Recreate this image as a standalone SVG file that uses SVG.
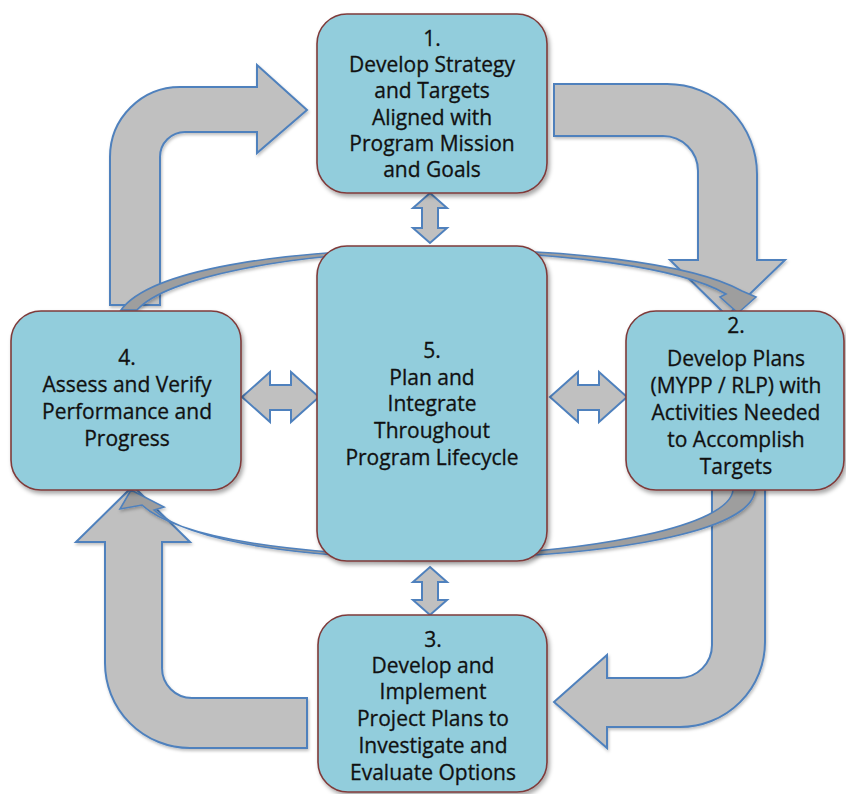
<svg xmlns="http://www.w3.org/2000/svg" width="846" height="794" viewBox="0 0 846 794">
<defs>
<filter id="sh" x="-10%" y="-10%" width="125%" height="125%">
<feDropShadow dx="2" dy="3" stdDeviation="2" flood-color="#000" flood-opacity="0.35"/>
</filter>
<filter id="sh2" x="-10%" y="-10%" width="125%" height="125%">
<feDropShadow dx="1" dy="2" stdDeviation="1.5" flood-color="#000" flood-opacity="0.25"/>
</filter>
<style>
.box{fill:#92cddc;stroke:#7f3b3a;stroke-width:1.6;filter:url(#sh)}
.big{fill:#c0c0c0;stroke:#4f81bd;stroke-width:2;stroke-linejoin:miter;filter:url(#sh2)}
.ring{fill:#9e9e9e;stroke:#4f81bd;stroke-width:1.6;stroke-linejoin:miter;filter:url(#sh2)}
.dbl{fill:#c0c0c0;stroke:#4f81bd;stroke-width:2;stroke-linejoin:miter}
.t{font-family:"Open Sans","Lato","Liberation Sans",sans-serif;font-size:21px;fill:#111;stroke:#111;stroke-width:0.3;text-anchor:middle}
</style>
</defs>
<rect width="846" height="794" fill="#fff"/>
<g id="connectors">
<path class="big" d="M110,305 L110,157 A70,70 0 0 1 180,87 L257,87 L257,65 L307,110 L257,153 L257,132 L185,132 A25,25 0 0 0 160,157 L160,305 Z"/>
<path class="big" d="M554,84 L667,84 A90,90 0 0 1 757,174 L757,260 L785,260 L727,316 L670,260 L698,260 L698,171 A35,35 0 0 0 663,136 L554,136 Z"/>
<path class="big" d="M712,480 L765,480 L765,642 A85,85 0 0 1 680,727 L607,727 L607,748 L554,702 L607,655 L607,678 L679,678 A33,33 0 0 0 712,645 Z"/>
<path class="big" d="M307,698 L192,698 A30,30 0 0 1 162,668 L162,542 L190,542 L133,486 L76,542 L105,542 L105,663 A85,85 0 0 0 190,748 L307,748 Z"/>
<path class="ring" d="M121,310 C150,270 280,250 432,249 C560,249 690,262 742,291 L756,297 L738,313 L720,297 L726,294 C680,267 560,251.5 432,251.5 C290,252 165,278 137,310 Z"/>
<path class="ring" d="M733,490 C730,525 600,553 432,556.5 C300,554 180,540 142,505 L120,509 L131,490 L164,507 L154,510 C190,543 310,558 432,559 C610,557 752,532 755,490 Z"/>
<path class="dbl" d="M430,193 L447,208 L438,208 L438,228 L447,228 L430,243 L413,228 L422,228 L422,208 L413,208 Z"/>
<path class="dbl" d="M430,567 L447,582 L438,582 L438,600 L447,600 L430,615 L413,600 L422,600 L422,582 L413,582 Z"/>
<path class="dbl" d="M242,397 L270,372 L270,385 L291,385 L291,372 L319,397 L291,422 L291,410 L270,410 L270,422 Z"/>
<path class="dbl" d="M550,397 L578,372 L578,385 L599,385 L599,372 L627,397 L599,422 L599,410 L578,410 L578,422 Z"/>
</g>
<g id="node1">
<rect class="box" x="317" y="14" width="230" height="179" rx="30"/>
<text class="t" x="432" y="46">1.</text>
<text class="t" x="432" y="72">Develop Strategy</text>
<text class="t" x="432" y="98">and Targets</text>
<text class="t" x="432" y="124.5">Aligned with</text>
<text class="t" x="432" y="151">Program Mission</text>
<text class="t" x="432" y="177">and Goals</text>
</g>
<g id="node5">
<rect class="box" x="317" y="246" width="230" height="315" rx="30"/>
<text class="t" x="432" y="358">5.</text>
<text class="t" x="432" y="385">Plan and</text>
<text class="t" x="432" y="411">Integrate</text>
<text class="t" x="432" y="438">Throughout</text>
<text class="t" x="432" y="465">Program Lifecycle</text>
</g>
<g id="node4">
<rect class="box" x="11" y="311" width="230" height="179" rx="30"/>
<text class="t" x="127" y="365">4.</text>
<text class="t" x="127" y="392">Assess and Verify</text>
<text class="t" x="127" y="419">Performance and</text>
<text class="t" x="127" y="446">Progress</text>
</g>
<g id="node2">
<rect class="box" x="626" y="311" width="218" height="179" rx="30"/>
<text class="t" x="736" y="333">2.</text>
<text class="t" x="736" y="366">Develop Plans</text>
<text class="t" x="736" y="393">(MYPP / RLP) with</text>
<text class="t" x="736" y="420">Activities Needed</text>
<text class="t" x="736" y="447">to Accomplish</text>
<text class="t" x="736" y="474">Targets</text>
</g>
<g id="node3">
<rect class="box" x="318" y="615" width="229" height="177" rx="30"/>
<text class="t" x="433" y="647">3.</text>
<text class="t" x="433" y="673">Develop and</text>
<text class="t" x="433" y="699">Implement</text>
<text class="t" x="433" y="725.5">Project Plans to</text>
<text class="t" x="433" y="753">Investigate and</text>
<text class="t" x="433" y="780">Evaluate Options</text>
</g>
</svg>
